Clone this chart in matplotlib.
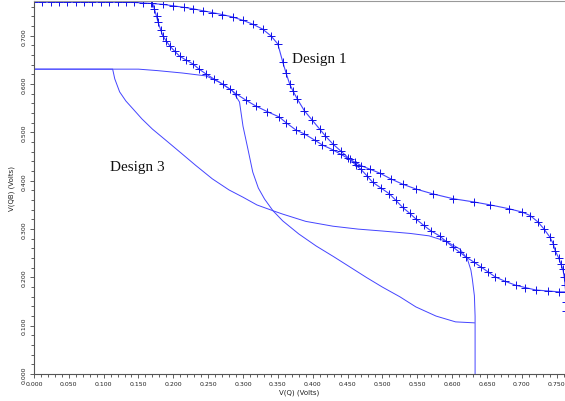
import numpy as np
import matplotlib
matplotlib.use("Agg")
import matplotlib.pyplot as plt
from matplotlib.ticker import MultipleLocator, FormatStrFormatter

# Design 1, curve through the right-hand steep drop (V(Q) in volts, V(QB) in volts)
d1a_x = [0.000, 0.012, 0.024, 0.036, 0.048, 0.060, 0.072, 0.084, 0.096, 0.108,
         0.120, 0.132, 0.144, 0.156, 0.168, 0.185, 0.200, 0.215, 0.228, 0.242,
         0.256, 0.270, 0.285, 0.300, 0.314, 0.328, 0.340, 0.350, 0.357, 0.362,
         0.367, 0.372, 0.378, 0.388, 0.399, 0.410, 0.418, 0.429, 0.440, 0.453,
         0.462, 0.469, 0.478, 0.486, 0.498, 0.510, 0.519, 0.529, 0.539, 0.548,
         0.559, 0.570, 0.582, 0.591, 0.601, 0.611, 0.620, 0.631, 0.641, 0.652,
         0.662, 0.676, 0.691, 0.705, 0.720, 0.737, 0.754, 0.762]
d1a_y = [0.770, 0.770, 0.770, 0.770, 0.770, 0.770, 0.770, 0.770, 0.770, 0.770,
         0.770, 0.769, 0.769, 0.768, 0.767, 0.765, 0.762, 0.759, 0.756, 0.752,
         0.748, 0.744, 0.739, 0.732, 0.724, 0.714, 0.700, 0.683, 0.646, 0.622,
         0.600, 0.585, 0.569, 0.545, 0.526, 0.507, 0.493, 0.476, 0.462, 0.445,
         0.432, 0.424, 0.410, 0.397, 0.385, 0.373, 0.360, 0.345, 0.333, 0.321,
         0.308, 0.296, 0.286, 0.275, 0.263, 0.252, 0.242, 0.232, 0.222, 0.211,
         0.201, 0.192, 0.184, 0.179, 0.174, 0.172, 0.170, 0.170]

# Design 1, curve through the left-hand steep drop
d1b_x = [0.170, 0.173, 0.176, 0.178, 0.182, 0.185, 0.190, 0.195, 0.202, 0.209,
         0.218, 0.228, 0.237, 0.247, 0.259, 0.271, 0.281, 0.290, 0.304, 0.318,
         0.335, 0.352, 0.362, 0.376, 0.388, 0.403, 0.414, 0.429, 0.440, 0.450,
         0.460, 0.470, 0.482, 0.496, 0.512, 0.529, 0.548, 0.572, 0.601, 0.632,
         0.655, 0.682, 0.701, 0.712, 0.723, 0.732, 0.740, 0.745, 0.748, 0.753,
         0.756, 0.759, 0.761, 0.762, 0.763, 0.763, 0.763]
d1b_y = [0.768, 0.755, 0.740, 0.729, 0.712, 0.700, 0.689, 0.679, 0.668, 0.658,
         0.650, 0.642, 0.631, 0.621, 0.610, 0.600, 0.590, 0.580, 0.567, 0.555,
         0.543, 0.532, 0.520, 0.505, 0.497, 0.484, 0.474, 0.464, 0.455, 0.447,
         0.439, 0.431, 0.424, 0.416, 0.404, 0.393, 0.383, 0.373, 0.363, 0.356,
         0.350, 0.342, 0.335, 0.328, 0.315, 0.300, 0.284, 0.270, 0.255, 0.240,
         0.228, 0.217, 0.200, 0.185, 0.170, 0.150, 0.130]

# Design 3, upper branch (flat, then steep drop near 0.3 V)
d3a_x = [0.000, 0.150, 0.177, 0.213, 0.247, 0.266, 0.285, 0.295, 0.300, 0.307,
         0.314, 0.322, 0.331, 0.343, 0.357, 0.380, 0.405, 0.430, 0.453, 0.477,
         0.500, 0.525, 0.548, 0.577, 0.605, 0.632]
d3a_y = [0.631, 0.631, 0.628, 0.623, 0.617, 0.604, 0.586, 0.563, 0.513, 0.466,
         0.418, 0.385, 0.362, 0.338, 0.317, 0.290, 0.265, 0.243, 0.222, 0.200,
         0.180, 0.160, 0.139, 0.120, 0.108, 0.106]

# Design 3, lower branch (drops at 0.11 V, vertical near 0.633 V)
d3b_x = [0.000, 0.113, 0.116, 0.123, 0.132, 0.142, 0.155, 0.170, 0.190, 0.209,
         0.232, 0.256, 0.280, 0.300, 0.320, 0.343, 0.357, 0.390, 0.429, 0.465,
         0.500, 0.540, 0.567, 0.591, 0.611, 0.622, 0.627, 0.629, 0.632, 0.633,
         0.633]
d3b_y = [0.631, 0.631, 0.611, 0.584, 0.565, 0.549, 0.528, 0.507, 0.483, 0.460,
         0.432, 0.404, 0.381, 0.366, 0.350, 0.338, 0.331, 0.316, 0.306, 0.300,
         0.296, 0.291, 0.286, 0.275, 0.259, 0.238, 0.215, 0.197, 0.162, 0.120,
         0.000]

line_col = "#4444ff"
mark_col = "#1010e8"

fig = plt.figure(figsize=(5.65, 4.02), dpi=100)
ax = fig.add_axes([0.060, 0.067, 0.94, 0.928])

ax.plot(d3a_x, d3a_y, color=line_col, lw=0.7)
ax.plot(d3b_x, d3b_y, color=line_col, lw=0.7)
ax.plot(d1a_x, d1a_y, color=line_col, lw=0.8, marker="+", ms=5.5,
        mec=mark_col, mew=0.7)
ax.plot(d1b_x, d1b_y, color=line_col, lw=0.8, marker="+", ms=5.5,
        mec=mark_col, mew=0.7)

ax.text(0.371, 0.652, "Design 1", family="Liberation Serif", fontsize=11,
        va="center", ha="left", color="#111111")
ax.text(0.109, 0.429, "Design 3", family="Liberation Serif", fontsize=11,
        va="center", ha="left", color="#111111")

ax.set_xlim(0.0, 0.762)
ax.set_ylim(0.0, 0.772)

ax.xaxis.set_major_locator(MultipleLocator(0.05))
ax.xaxis.set_minor_locator(MultipleLocator(0.01))
ax.yaxis.set_major_locator(MultipleLocator(0.1))
ax.yaxis.set_minor_locator(MultipleLocator(0.02))
ax.xaxis.set_major_formatter(FormatStrFormatter("%.3f"))
ax.yaxis.set_major_formatter(FormatStrFormatter("%.3f"))

ax.tick_params(which="both", direction="out", color="#444444",
               labelsize=4.5, labelcolor="#222222", width=0.6)
ax.tick_params(which="major", length=3, pad=2)
ax.tick_params(which="minor", length=2)
for lab in ax.get_yticklabels():
    lab.set_rotation(90)
    lab.set_va("center")

ax.set_xlabel("V(Q) (Volts)", fontsize=5, labelpad=2, color="#222222")
ax.set_ylabel("V(QB) (Volts)", fontsize=5, labelpad=5, color="#222222")

ax.spines["left"].set_color("#555555")
ax.spines["bottom"].set_color("#555555")
ax.spines["top"].set_color("#999999")
ax.spines["right"].set_visible(False)
for s in ax.spines.values():
    s.set_linewidth(0.8)

fig.savefig("out.png", dpi=100)
